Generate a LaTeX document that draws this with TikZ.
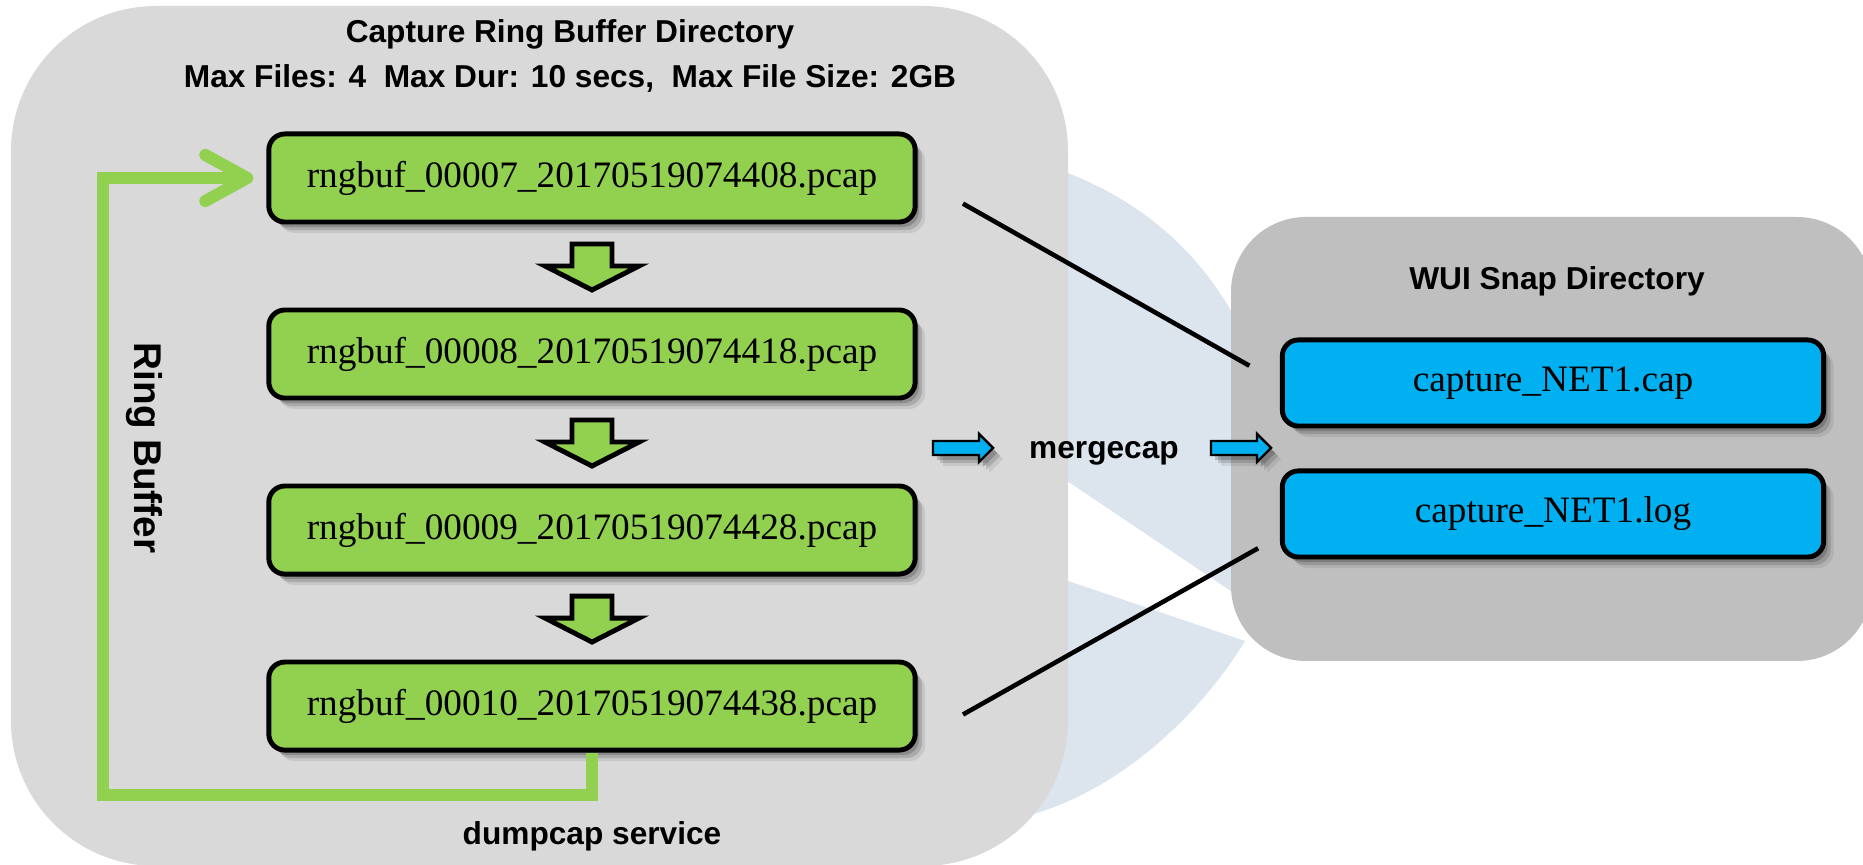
\documentclass[tikz,border=0pt]{standalone}
\usepackage{fontspec}
\setmainfont{Liberation Serif}
\setsansfont{Liberation Sans}
\usetikzlibrary{positioning,calc,shadows,arrows.meta}
\definecolor{bufgreen}{HTML}{92D050}
\definecolor{snapblue}{HTML}{00B0F0}
\definecolor{ringgray}{HTML}{D9D9D9}
\definecolor{snapgray}{HTML}{BFBFBF}
\definecolor{logoblue}{HTML}{DCE4EE}

\begin{document}
\begin{tikzpicture}[x=0.01cm, y=-0.01cm, node distance=0.83cm,
    softshadow/.style={
      drop shadow={shadow xshift=0.10cm, shadow yshift=-0.11cm, opacity=0.08, fill=black},
      drop shadow={shadow xshift=0.07cm, shadow yshift=-0.08cm, opacity=0.14, fill=black},
      drop shadow={shadow xshift=0.04cm, shadow yshift=-0.05cm, opacity=0.18, fill=black}},
    filebox/.style={draw, line width=1.4pt, rounded corners=0.16cm, fill=bufgreen,
      minimum width=6.46cm, minimum height=0.88cm, inner sep=0pt,
      font=\fontsize{10.6}{12}\selectfont, softshadow},
    snapfile/.style={filebox, fill=snapblue, minimum width=5.41cm, minimum height=0.86cm},
    dirlabel/.style={font=\fontsize{9}{11}\selectfont\sffamily\bfseries, anchor=base, inner sep=0pt},
    downarr/.style={draw, line width=1.4pt, fill=bufgreen},
    mergearr/.style={draw, line width=0.7pt, fill=snapblue, softshadow},
    joinline/.style={line width=1.3pt},
    ringline/.style={draw=bufgreen, line width=0.12cm}]
  \useasboundingbox (0,0) rectangle (1863,865);

  % logo behind the panels
  \fill[logoblue] (1030,160) .. controls (1150,195) and (1225,270) .. (1262,380) -- (1262,612) -- (1030,456) -- cycle;
  \fill[logoblue] (1030,568) -- (1245,641) .. controls (1200,715) and (1120,790) .. (1030,815) -- cycle;

  % panels
  \fill[ringgray, rounded corners=1.45cm] (11,6) rectangle (1068,866);
  \fill[snapgray, rounded corners=0.75cm] (1231,217) rectangle (1872,661);

  \node[dirlabel] (rbtitle) at (570,43) {Capture Ring Buffer Directory};
  \node[dirlabel] (rblimits) at (570,88) {Max Files: 4\ \ Max Dur: 10 secs,\ \ Max File Size: 2GB};
  \node[dirlabel] (snaptitle) at (1557,290) {WUI Snap Directory};

  % ring buffer files
  \node[filebox] (f1) at (592,178) {rngbuf\_00007\_20170519074408.pcap};
  \node[filebox, below=of f1] (f2) {rngbuf\_00008\_20170519074418.pcap};
  \node[filebox, below=of f2] (f3) {rngbuf\_00009\_20170519074428.pcap};
  \node[filebox, below=of f3] (f4) {rngbuf\_00010\_20170519074438.pcap};

  \foreach \p/\q in {f1/f2, f2/f3, f3/f4}
    \draw[downarr] ($(\p.south)!0.5!(\q.north)$) ++(-20,-22) -- ++(40,0) -- ++(0,22) -- ++(27,0)
      -- ++(-47,24) -- ++(-47,-24) -- ++(27,0) -- cycle;

  \coordinate (ringcorner) at (103,795);
  \draw[ringline, -{Straight Barb[length=0.42cm, width=0.46cm, round]}]
    (f4.south) |- (ringcorner) |- ([xshift=-0.13cm]f1.west);
  \node[dirlabel, anchor=center, rotate=-90, font=\fontsize{11}{13}\selectfont\sffamily\bfseries]
    (ring) at (144,448) {Ring Buffer};
  \node[dirlabel] (dump) at (592,845) {dumpcap service};

  % snap files
  \node[snapfile] (c1) at (1553,383) {capture\_NET1.cap};
  \node[snapfile, below=0.40cm of c1] (c2) {capture\_NET1.log};

  \draw[joinline, shorten <=0.52cm, shorten >=0.35cm] (f1.east) -- (c1.west);
  \draw[joinline, shorten <=0.52cm, shorten >=0.25cm] ($(f4.east)+(0,34)$) -- ($(c2.west)+(0,22)$);

  % mergecap
  \node[dirlabel] (mc) at (1104,459) {mergecap};
  \coordinate (m1) at (963,448);
  \coordinate (m2) at (1241,448);
  \foreach \m in {m1, m2}
    \draw[mergearr] (\m) ++(-30,-7) -- ++(46,0) -- ++(0,-7) -- ++(14,14) -- ++(-14,14)
      -- ++(0,-7) -- ++(-46,0) -- cycle;
\end{tikzpicture}
\end{document}
